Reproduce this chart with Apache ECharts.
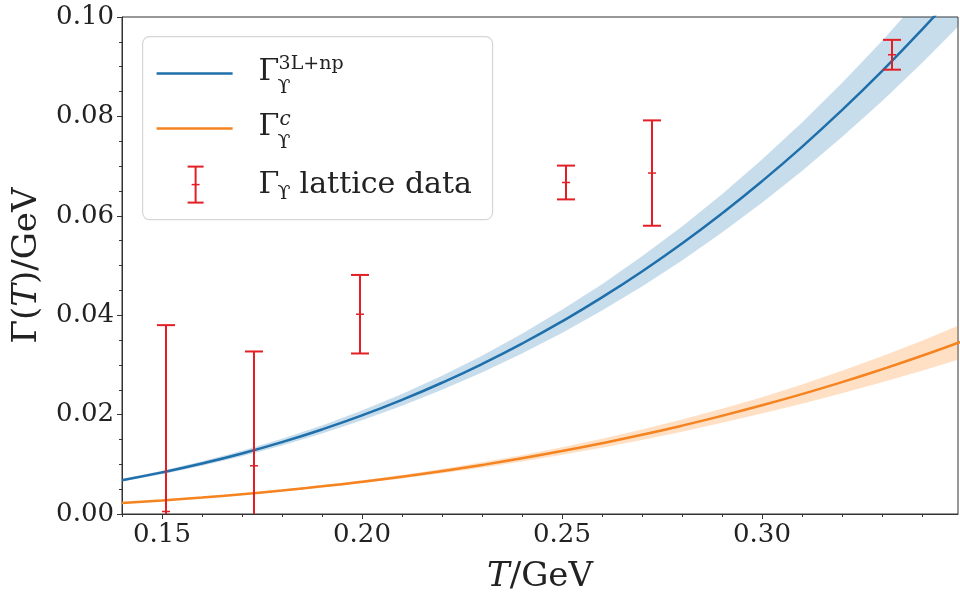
<!DOCTYPE html>
<html>
<head>
<meta charset="utf-8">
<script src="https://cdn.jsdelivr.net/npm/echarts@6/dist/echarts.min.js"></script>
<style>
  html, body { margin: 0; padding: 0; background: #fff; }
  #chart { width: 960px; height: 599px; }
</style>
</head>
<body>
<div id="chart"></div>
<script>
// temperature grid for the model curves (GeV)
const temps = [0.14, 0.15, 0.16, 0.17, 0.18, 0.19, 0.20, 0.21, 0.22, 0.23, 0.24,
  0.25, 0.26, 0.27, 0.28, 0.29, 0.30, 0.31, 0.32, 0.33, 0.34, 0.35]

// Gamma^{3L+np}: central line and band
const width3L = [0.0068, 0.00837, 0.01016, 0.01218, 0.01446, 0.01701, 0.01984, 0.02297,
  0.02641, 0.03017, 0.03428, 0.03875, 0.04359, 0.04881, 0.05444, 0.06049, 0.06696,
  0.07388, 0.08127, 0.08912, 0.09747, 0.1063]
const width3LLow = [0.00653, 0.00802, 0.00972, 0.01163, 0.01379, 0.01619, 0.01885, 0.02178,
  0.02498, 0.02848, 0.03229, 0.03643, 0.04093, 0.04578, 0.05101, 0.05662, 0.06261,
  0.069, 0.07583, 0.08306, 0.09075, 0.09886]
const width3LHigh = [0.00707, 0.00872, 0.0106, 0.01273, 0.01514, 0.01783, 0.02083, 0.02416,
  0.02784, 0.03186, 0.03627, 0.04108, 0.04625, 0.05184, 0.05787, 0.06436, 0.07131,
  0.07876, 0.08672, 0.09518, 0.1042, 0.11374]

// Gamma^c: central line and band
const widthC = [0.00222, 0.00273, 0.00332, 0.00398, 0.00472, 0.00556, 0.00648, 0.0075,
  0.00863, 0.00986, 0.0112, 0.01266, 0.01424, 0.01594, 0.01778, 0.01976, 0.02187,
  0.02413, 0.02654, 0.02911, 0.03183, 0.03473]
const widthCLow = [0.00214, 0.00263, 0.00319, 0.00382, 0.00452, 0.00532, 0.00619, 0.00714,
  0.00819, 0.00933, 0.01056, 0.0119, 0.01334, 0.01489, 0.01655, 0.01834, 0.02023,
  0.0222, 0.02428, 0.02649, 0.02881, 0.03126]
const widthCHigh = [0.0023, 0.00283, 0.00345, 0.00414, 0.00492, 0.0058, 0.00677, 0.00786,
  0.00907, 0.01039, 0.01184, 0.01342, 0.01514, 0.01699, 0.01901, 0.02118, 0.02351,
  0.02606, 0.0288, 0.03173, 0.03485, 0.0382]

// lattice points
const latticeT = [0.151, 0.173, 0.1995, 0.251, 0.2725, 0.3325]
const latticeVal = [0.0005, 0.0097, 0.0402, 0.0667, 0.0686, 0.0924]
const latticeErr = [0.0375, 0.023, 0.0079, 0.0034, 0.0106, 0.003]

const xTicks = [0.15, 0.20, 0.25, 0.30]
const xMinorTicks = [0.14, 0.15, 0.16, 0.17, 0.18, 0.19, 0.20, 0.21, 0.22, 0.23, 0.24,
  0.25, 0.26, 0.27, 0.28, 0.29, 0.30, 0.31, 0.32, 0.33, 0.34]

const serif = 'DejaVu Serif'
const axisColor = '#333'
const textColor = '#222'
const blue = '#1f6fab'
const orange = '#f5831f'
const red = '#e31f26'
const ups = '\u03d2'

const chart = echarts.init(document.getElementById('chart'))

function pairs(xs, ys) {
  return xs.map((x, i) => [x, ys[i]])
}

// whole band as one polygon, drawn once
function bandSeries(low, high, color) {
  return {
    type: 'custom',
    clip: true,
    silent: true,
    z: 1,
    data: [0],
    renderItem: (params, api) => {
      const pts = []
      temps.forEach((t, i) => pts.push(api.coord([t, high[i]])))
      for (let i = temps.length - 1; i >= 0; i--) pts.push(api.coord([temps[i], low[i]]))
      return {
        type: 'polygon',
        shape: { points: pts },
        style: { fill: color }
      }
    }
  }
}

function txt(x, y, text, size, italic) {
  return {
    type: 'text',
    x: x,
    y: y,
    style: {
      text: text,
      font: (italic ? 'italic ' : '') + size + 'px "DejaVu Serif"',
      fill: textColor,
      verticalAlign: 'middle'
    }
  }
}

const option = {
  animation: false,
  grid: {
    left: 122,
    top: 17,
    right: 2,
    bottom: 85,
    show: true,
    borderColor: axisColor,
    borderWidth: 1
  },
  xAxis: [
    {
      type: 'value',
      min: 0.14,
      max: 0.349,
      name: '{i|T}/GeV',
      nameLocation: 'middle',
      nameGap: 46,
      nameTextStyle: {
        fontFamily: serif,
        fontSize: 34,
        color: textColor,
        rich: { i: { fontFamily: serif, fontStyle: 'italic', fontSize: 34, color: textColor } }
      },
      axisLine: { show: true, lineStyle: { color: axisColor, width: 1 } },
      axisTick: { show: true, length: 5, lineStyle: { color: axisColor }, customValues: xTicks },
      axisLabel: {
        customValues: xTicks,
        formatter: v => v.toFixed(2),
        fontFamily: serif,
        fontSize: 26,
        color: textColor,
        margin: 8
      },
      splitLine: { show: false }
    },
    {
      type: 'value',
      min: 0.14,
      max: 0.349,
      position: 'bottom',
      axisLine: { show: false },
      axisTick: { show: true, length: 3, lineStyle: { color: axisColor }, customValues: xMinorTicks },
      axisLabel: { show: false },
      splitLine: { show: false }
    }
  ],
  yAxis: {
    type: 'value',
    min: 0,
    max: 0.1,
    interval: 0.02,
    name: 'Γ({i|T})/GeV',
    nameLocation: 'middle',
    nameGap: 78,
    nameTextStyle: {
      fontFamily: serif,
      fontSize: 34,
      color: textColor,
      rich: { i: { fontFamily: serif, fontStyle: 'italic', fontSize: 34, color: textColor } }
    },
    axisLine: { show: true, lineStyle: { color: axisColor, width: 1 } },
    axisTick: { show: true, length: 5, lineStyle: { color: axisColor } },
    minorTick: { show: true, splitNumber: 4, length: 3, lineStyle: { color: axisColor } },
    axisLabel: {
      formatter: v => v.toFixed(2),
      fontFamily: serif,
      fontSize: 26,
      color: textColor,
      margin: 8
    },
    splitLine: { show: false }
  },
  series: [
    bandSeries(width3LLow, width3LHigh, 'rgba(31, 119, 180, 0.25)'),
    bandSeries(widthCLow, widthCHigh, 'rgba(255, 127, 14, 0.24)'),
    {
      name: 'Γ3L+np',
      type: 'line',
      data: pairs(temps, width3L),
      smooth: true,
      showSymbol: false,
      z: 3,
      lineStyle: { color: blue, width: 2.5 }
    },
    {
      name: 'Γc',
      type: 'line',
      data: pairs(temps, widthC),
      smooth: true,
      showSymbol: false,
      z: 3,
      lineStyle: { color: orange, width: 2.5 }
    },
    {
      name: 'lattice',
      type: 'custom',
      clip: true,
      z: 4,
      data: latticeT.map((t, i) => [t, latticeVal[i], latticeErr[i]]),
      renderItem: (params, api) => {
        const t = api.value(0)
        const v = api.value(1)
        const e = api.value(2)
        const top = api.coord([t, v + e])
        const mid = api.coord([t, v])
        const bot = api.coord([t, v - e])
        const st = { stroke: red, lineWidth: 2 }
        return {
          type: 'group',
          children: [
            { type: 'line', shape: { x1: top[0], y1: top[1], x2: bot[0], y2: bot[1] }, style: st },
            { type: 'line', shape: { x1: top[0] - 9, y1: top[1], x2: top[0] + 9, y2: top[1] }, style: st },
            { type: 'line', shape: { x1: bot[0] - 9, y1: bot[1], x2: bot[0] + 9, y2: bot[1] }, style: st },
            { type: 'line', shape: { x1: mid[0] - 4, y1: mid[1], x2: mid[0] + 4, y2: mid[1] }, style: { stroke: red, lineWidth: 1.5 } }
          ]
        }
      }
    }
  ],
  graphic: [
    {
      type: 'group',
      left: 142,
      top: 36,
      z: 10,
      children: [
        {
          type: 'rect',
          shape: { x: 0, y: 0, width: 350, height: 183, r: 7 },
          style: { fill: 'rgba(255,255,255,0.85)', stroke: '#d6d6d6', lineWidth: 1.2 }
        },
        // row 1
        { type: 'line', shape: { x1: 14, y1: 37, x2: 90, y2: 37 }, style: { stroke: blue, lineWidth: 2.5 } },
        txt(116, 36, 'Γ', 30),
        txt(136, 27, '3L+np', 19),
        txt(135, 51, ups, 19),
        // row 2
        { type: 'line', shape: { x1: 14, y1: 92, x2: 90, y2: 92 }, style: { stroke: orange, lineWidth: 2.5 } },
        txt(116, 91, 'Γ', 30),
        txt(137, 83, 'c', 20, true),
        txt(135, 106, ups, 19),
        // row 3
        { type: 'line', shape: { x1: 53, y1: 130, x2: 53, y2: 166 }, style: { stroke: red, lineWidth: 2 } },
        { type: 'line', shape: { x1: 45, y1: 130, x2: 61, y2: 130 }, style: { stroke: red, lineWidth: 2 } },
        { type: 'line', shape: { x1: 45, y1: 166, x2: 61, y2: 166 }, style: { stroke: red, lineWidth: 2 } },
        { type: 'line', shape: { x1: 49, y1: 148, x2: 57, y2: 148 }, style: { stroke: red, lineWidth: 1.5 } },
        txt(116, 149, 'Γ', 30),
        txt(135, 157, ups, 19),
        txt(157, 149, 'lattice data', 30)
      ]
    }
  ]
}

chart.setOption(option)
</script>
</body>
</html>
